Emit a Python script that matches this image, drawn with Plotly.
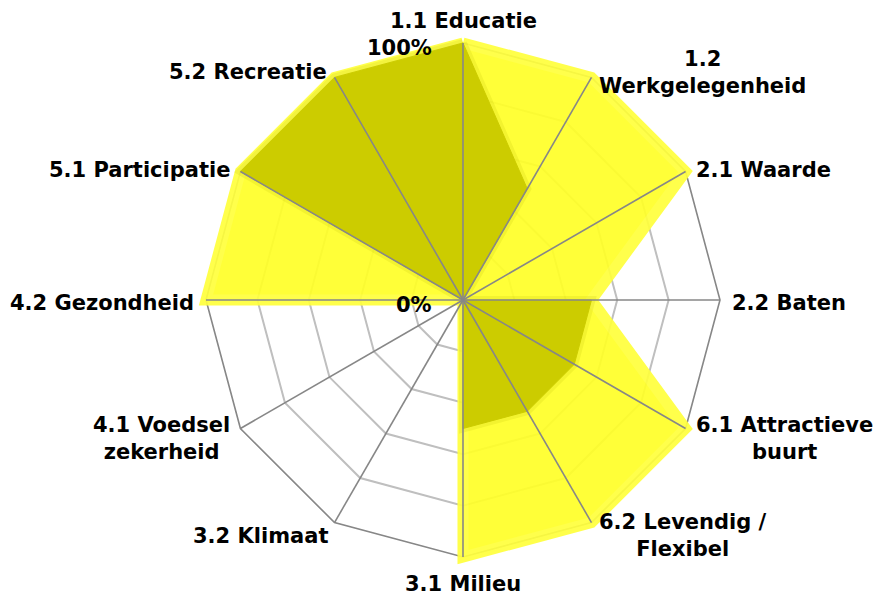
import math

import plotly.graph_objects as go

# categories clockwise from the top
categories = ["1.1 Educatie", "1.2 Werkgelegenheid", "2.1 Waarde", "2.2 Baten",
              "6.1 Attractieve buurt", "6.2 Levendig / Flexibel", "3.1 Milieu",
              "3.2 Klimaat", "4.1 Voedsel zekerheid", "4.2 Gezondheid",
              "5.1 Participatie", "5.2 Recreatie"]
category_labels = ["1.1 Educatie", "1.2<br>Werkgelegenheid", "2.1 Waarde", "2.2 Baten",
                   "6.1 Attractieve<br>buurt", "6.2 Levendig /<br>Flexibel", "3.1 Milieu",
                   "3.2 Klimaat", "4.1 Voedsel<br>zekerheid", "4.2 Gezondheid",
                   "5.1 Participatie", "5.2 Recreatie"]

series_yellow = [1.0, 1.0, 1.0, 0.5, 1.0, 1.0, 1.0, 0.0, 0.0, 1.0, 1.0, 1.0]
series_olive = [1.0, 0.5, 0.0, 0.5, 0.5, 0.5, 0.5, 0.0, 0.0, 0.0, 1.0, 1.0]

tick_values = [0, 1]
tick_labels = ["0%", "100%"]
ring_values = [0.2, 0.4, 0.6, 0.8]

W, H = 877, 597
FONT = "DejaVu Sans"
FONT_SIZE = 21
SPOKE = "#878787"

# centre of the web and radius of the 100% ring, in pixels
CX_PX, CY_PX, R1_PX = 463, 300, 257
# a little headroom past 100% so the glow of the yellow area is not clipped
R_MAX = 1.035
r_px = R1_PX * R_MAX
dom_x = [(CX_PX - r_px) / W, (CX_PX + r_px) / W]
dom_y = [1 - (CY_PX + r_px) / H, 1 - (CY_PX - r_px) / H]
cx, cy = CX_PX / W, 1 - CY_PX / H
rx, ry = R1_PX / W, R1_PX / H


def closed(values):
    return list(values) + [values[0]]


theta = closed(categories)

fig = go.Figure()

# outer 100% ring (lies under the filled areas)
fig.add_trace(go.Scatterpolar(
    r=[1] * (len(categories) + 1), theta=theta, mode="lines",
    line=dict(color=SPOKE, width=1.6), hoverinfo="skip", showlegend=False))

# yellow series with a soft glow around its edge
fig.add_trace(go.Scatterpolar(
    r=closed(series_yellow), theta=theta, mode="lines", fill="toself",
    fillcolor="rgb(255,255,40)", line=dict(color="rgb(255,255,60)", width=11),
    opacity=0.92, hoverinfo="skip", showlegend=False))

fig.add_trace(go.Scatterpolar(
    r=closed(series_olive), theta=theta, mode="lines",
    line=dict(color="rgba(180,180,0,0.16)", width=8),
    hoverinfo="skip", showlegend=False))

fig.add_trace(go.Scatterpolar(
    r=closed(series_olive), theta=theta, mode="lines", fill="toself",
    fillcolor="#CCCC00", line=dict(color="#CCCC00", width=1),
    hoverinfo="skip", showlegend=False))

# spokes drawn above the filled areas
spoke_r, spoke_t = [], []
for c in categories:
    spoke_r += [0, 1, None]
    spoke_t += [c, c, c]
fig.add_trace(go.Scatterpolar(
    r=spoke_r, theta=spoke_t, mode="lines", connectgaps=False,
    line=dict(color=SPOKE, width=1.6), hoverinfo="skip", showlegend=False))

annotations = []
n = len(categories)
for i, label in enumerate(category_labels):
    a = math.radians(i * 360 / n)
    s, c = math.sin(a), math.cos(a)
    if s > 0.1:
        xanchor = "left"
    elif s < -0.1:
        xanchor = "right"
    else:
        xanchor = "center"
    if c > 0.95:
        yanchor = "bottom"
    elif c < -0.95:
        yanchor = "top"
    else:
        yanchor = "middle"
    if c > -0.01:
        yshift = c * 8 - 3 * abs(s)
    else:
        yshift = c * 13 - 4 * abs(s)
    annotations.append(dict(
        x=cx + rx * s, y=cy + ry * c, xref="paper", yref="paper",
        text=f"<b>{label}</b>", showarrow=False, xanchor=xanchor, yanchor=yanchor,
        xshift=s * 10, yshift=yshift, align="center",
        font=dict(family=FONT, size=FONT_SIZE, color="black")))

# radial tick labels (0% at the centre, 100% at the top)
for v, t in zip(tick_values, tick_labels):
    annotations.append(dict(
        x=cx, y=cy + ry * v, xref="paper", yref="paper", text=f"<b>{t}</b>",
        showarrow=False, xanchor="right", yanchor="middle",
        xshift=-29, yshift=-5,
        font=dict(family=FONT, size=FONT_SIZE, color="black")))

fig.update_layout(
    width=W, height=H,
    margin=dict(l=0, r=0, t=0, b=0),
    paper_bgcolor="white", plot_bgcolor="white",
    showlegend=False,
    annotations=annotations,
    polar=dict(
        domain=dict(x=dom_x, y=dom_y),
        bgcolor="white",
        gridshape="linear",
        radialaxis=dict(range=[0, R_MAX], tickvals=ring_values, showticklabels=False,
                        ticks="", showline=False, gridcolor="#BFBFBF", gridwidth=1.6),
        angularaxis=dict(rotation=90, direction="clockwise", type="category",
                         categoryorder="array", categoryarray=categories,
                         showticklabels=False, ticks="", showline=False,
                         showgrid=False),
    ),
)

# the page's default body margin would push the figure off its 877x597 window
fig.write_html("out.html", config={"displayModeBar": False},
               post_script="document.body.style.margin='0';")
